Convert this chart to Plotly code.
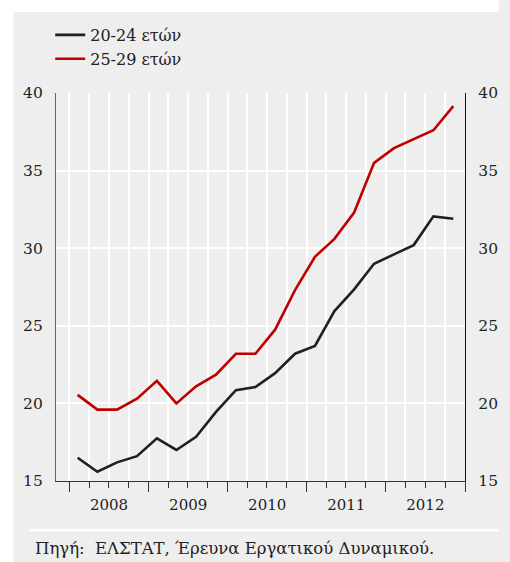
import pandas as pd
import plotly.graph_objects as go

# ---- data ----
quarters = [f"{y}-Q{q}" for y in range(2008, 2013) for q in range(1, 5)]
age_20_24 = [16.5, 15.6, 16.2, 16.6, 17.75, 17.0, 17.85, 19.45, 20.85, 21.05,
             21.95, 23.2, 23.7, 25.95, 27.35, 29.0, 29.6, 30.2, 32.05, 31.9]
age_25_29 = [20.55, 19.6, 19.6, 20.3, 21.45, 20.0, 21.1, 21.85, 23.2, 23.2,
             24.75, 27.3, 29.45, 30.6, 32.3, 35.5, 36.45, 37.05, 37.6, 39.15]
series_names = ["20-24 ετών", "25-29 ετών"]
source_text = "Πηγή:  ΕΛΣΤΑΤ, Έρευνα Εργατικού Δυναμικού."

# quarter label -> date (point placed ~38 days into the quarter)
def q_to_date(s):
    y, q = s.split("-Q")
    return pd.Timestamp(int(y), 3 * (int(q) - 1) + 1, 1) + pd.Timedelta(days=38)

x_dates = [q_to_date(q) for q in quarters]

FONT = "DejaVu Serif"
BG = "#eeeeee"
BLACK = "#231f20"
RED = "#c00000"
TXT = "#222222"

fig = go.Figure()
fig.add_trace(go.Scatter(x=x_dates, y=age_20_24, mode="lines", name=series_names[0],
                         line=dict(color=BLACK, width=2.6)))
fig.add_trace(go.Scatter(x=x_dates, y=age_25_29, mode="lines", name=series_names[1],
                         line=dict(color=RED, width=2.6)))
fig.add_trace(go.Scatter(x=x_dates, y=age_25_29, mode="lines", yaxis="y2",
                         line=dict(color="rgba(0,0,0,0)", width=0),
                         showlegend=False, hoverinfo="skip"))

W, H = 510, 562
L, R, T, B = 56, 30, 93, 81
pw, ph = W - L - R, H - T - B

def px_x(p):
    return (p - L) / pw

def px_y(p):
    return (H - B - p) / ph

fig.update_layout(
    width=W, height=H,
    margin=dict(l=L, r=R, t=T, b=B),
    paper_bgcolor=BG, plot_bgcolor=BG,
    font=dict(family=FONT, size=15, color=TXT),
    showlegend=True,
    legend=dict(x=px_x(50), y=px_y(18), xanchor="left", yanchor="top",
                bgcolor="rgba(0,0,0,0)", font=dict(size=16, family=FONT, color=TXT),
                tracegroupgap=0, itemwidth=30),
    xaxis=dict(
        type="date",
        range=["2007-10-31", "2013-01-01"],
        tick0="2008-01-01", dtick="M12",
        ticklabelmode="period",
        tickformat="%Y",
        ticks="outside", ticklen=10, tickwidth=1.2, tickcolor="#333333",
        showgrid=True, gridcolor="white", gridwidth=1.5,
        showline=True, linecolor="#333333", linewidth=1.2,
        zeroline=False,
        tickfont=dict(size=15, family=FONT, color=TXT),
        minor=dict(dtick="M3", tick0="2008-01-01", ticks="outside", ticklen=6,
                   tickwidth=1.2, tickcolor="#333333", showgrid=True,
                   gridcolor="white", gridwidth=1.5),
    ),
    yaxis=dict(
        range=[15, 40], dtick=5, tick0=15,
        showgrid=True, gridcolor="white", gridwidth=1.5,
        showline=True, linecolor="#666666", linewidth=1.2,
        zeroline=False, ticks="", ticklabelstandoff=9,
        tickfont=dict(size=15.5, family=FONT, color=TXT),
    ),
    yaxis2=dict(
        range=[15, 40], dtick=5, tick0=15, overlaying="y", side="right",
        showgrid=False, showline=True, linecolor="#111111", linewidth=1.4,
        zeroline=False, ticks="", ticklabelstandoff=9,
        tickfont=dict(size=15.5, family=FONT, color=TXT),
    ),
    shapes=[
        dict(type="rect", xref="paper", yref="paper",
             x0=px_x(-5), x1=px_x(W + 5), y0=px_y(12), y1=px_y(-5),
             fillcolor="white", line=dict(width=0), layer="above"),
        dict(type="rect", xref="paper", yref="paper",
             x0=px_x(-5), x1=px_x(12), y0=px_y(H + 5), y1=px_y(-5),
             fillcolor="white", line=dict(width=0), layer="above"),
        dict(type="line", xref="paper", yref="paper",
             x0=px_x(28), x1=px_x(W + 5), y0=px_y(530), y1=px_y(530),
             line=dict(color="white", width=2.5)),
    ],
    annotations=[
        dict(text=source_text, xref="paper", yref="paper",
             x=px_x(32), y=px_y(548), xanchor="left", yanchor="middle",
             showarrow=False, font=dict(size=16.5, family=FONT, color=TXT)),
    ],
)

fig.write_html("out.html", config={"displayModeBar": False},
               post_script="document.body.style.margin='0';document.body.style.overflow='hidden';")
